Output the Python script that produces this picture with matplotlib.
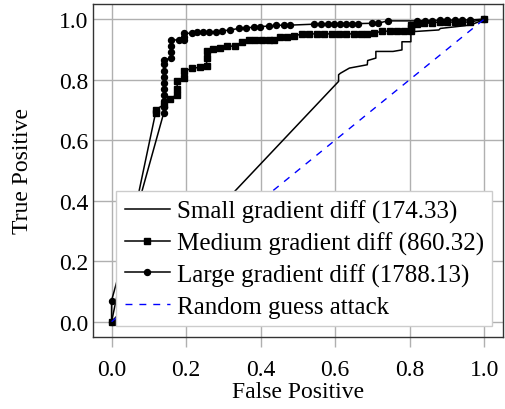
import matplotlib
matplotlib.use('Agg')
import matplotlib.pyplot as plt

# ROC points
small_fp = [0.0, 0.609, 0.609, 0.614, 0.638, 0.686, 0.687, 0.709, 0.709, 0.755,
            0.779, 0.779, 0.803, 0.803, 0.878, 0.882, 0.962, 0.985, 1.0]
small_tp = [0.0, 0.794, 0.816, 0.821, 0.838, 0.849, 0.863, 0.871, 0.893, 0.893,
            0.898, 0.925, 0.925, 0.958, 0.964, 0.969, 0.980, 0.991, 1.0]

medium_fp = [0.0, 0.118, 0.118, 0.14, 0.156, 0.176, 0.176, 0.176, 0.194, 0.194,
             0.216, 0.237, 0.255, 0.255, 0.255, 0.273, 0.29, 0.31, 0.332, 0.35,
             0.368, 0.386, 0.404, 0.422, 0.435, 0.451, 0.471, 0.489, 0.511, 0.529,
             0.55, 0.57, 0.59, 0.61, 0.63, 0.65, 0.668, 0.686, 0.705, 0.726,
             0.746, 0.766, 0.784, 0.802, 0.802, 0.802, 0.82, 0.839, 0.86, 0.88,
             0.9, 0.92, 0.94, 0.962, 1.0]
medium_tp = [0.0, 0.69, 0.70, 0.717, 0.737, 0.75, 0.77, 0.794, 0.805, 0.827,
             0.838, 0.84, 0.844, 0.87, 0.893, 0.901, 0.906, 0.91, 0.911, 0.925,
             0.931, 0.931, 0.931, 0.931, 0.931, 0.94, 0.94, 0.945, 0.95, 0.951,
             0.951, 0.951, 0.951, 0.951, 0.951, 0.951, 0.952, 0.952, 0.954, 0.96,
             0.96, 0.96, 0.96, 0.96, 0.97, 0.98, 0.984, 0.986, 0.988, 0.99,
             0.99, 0.99, 0.99, 0.99, 1.0]

large_fp = [0.0, 0.0, 0.14, 0.14, 0.14, 0.14, 0.14, 0.14, 0.14, 0.14,
            0.14, 0.14, 0.16, 0.16, 0.16, 0.16, 0.18, 0.194, 0.194, 0.194,
            0.216, 0.23, 0.246, 0.261, 0.279, 0.297, 0.319, 0.341, 0.36, 0.381,
            0.399, 0.422, 0.442, 0.462, 0.48, 0.542, 0.562, 0.58, 0.596, 0.614,
            0.63, 0.645, 0.66, 0.699, 0.714, 0.741, 0.82, 0.842, 0.86, 0.88,
            0.9, 0.92, 0.94, 0.962, 1.0]
large_tp = [0.0, 0.07, 0.69, 0.71, 0.73, 0.75, 0.77, 0.79, 0.81, 0.83,
            0.85, 0.865, 0.871, 0.89, 0.91, 0.931, 0.931, 0.931, 0.94, 0.953,
            0.953, 0.956, 0.956, 0.958, 0.958, 0.961, 0.964, 0.969, 0.971, 0.973,
            0.975, 0.977, 0.979, 0.98, 0.98, 0.983, 0.983, 0.983, 0.983, 0.985,
            0.985, 0.985, 0.985, 0.986, 0.986, 0.994, 0.994, 0.994, 0.995, 0.996,
            0.996, 0.997, 0.997, 0.997, 1.0]

random_fp = [0.0, 1.0]
random_tp = [0.0, 1.0]

labels = ['Small gradient diff (174.33)', 'Medium gradient diff (860.32)',
          'Large gradient diff (1788.13)', 'Random guess attack']
ticks = [0.0, 0.2, 0.4, 0.6, 0.8, 1.0]

plt.rcParams['font.family'] = ['Liberation Serif', 'DejaVu Serif']
plt.rcParams['font.size'] = 17

fig, ax = plt.subplots(figsize=(5.05, 4.1), dpi=100)
fig.subplots_adjust(left=0.184, right=0.996, top=0.988, bottom=0.176)

ax.plot(small_fp, small_tp, 'k-', lw=1.1, label=labels[0])
ax.plot(medium_fp, medium_tp, 'k-', lw=1.1, marker='s', ms=4.3, label=labels[1])
ax.plot(large_fp, large_tp, 'k-', lw=1.1, marker='o', ms=4.3, label=labels[2])
ax.plot(random_fp, random_tp, '--', color='blue', lw=1.0, dashes=(5, 5), label=labels[3])

ax.set_xlim(-0.05, 1.05)
ax.set_ylim(-0.05, 1.05)
ax.set_xticks(ticks)
ax.set_yticks(ticks)
ax.set_xticklabels(['%.1f' % t for t in ticks])
ax.set_yticklabels(['%.1f' % t for t in ticks])
ax.grid(True, color='#b0b0b0', lw=1.0)
ax.set_axisbelow(True)
ax.tick_params(axis='x', direction='out', length=7, color='#b0b0b0', width=1.0, pad=9)
ax.tick_params(axis='y', direction='in', length=0, pad=3)
for sp in ax.spines.values():
  sp.set_color('#333333')
  sp.set_linewidth(1.0)

ax.set_xlabel('False Positive', labelpad=1)
ax.set_ylabel('True Positive', labelpad=19)

leg = ax.legend(loc='lower right', fancybox=False, framealpha=1.0, edgecolor='#cccccc',
                fontsize=18, borderaxespad=0.42, handlelength=1.8, handletextpad=0.28,
                labelspacing=0.34, borderpad=0.35)
leg.get_frame().set_linewidth(1.0)

plt.savefig('out.png', dpi=100)
plt.close()
